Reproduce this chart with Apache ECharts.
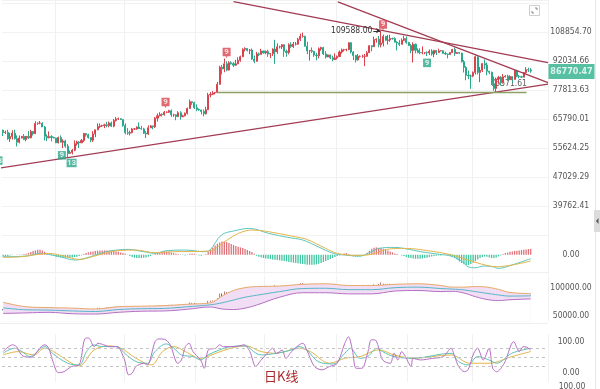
<!DOCTYPE html>
<html><head><meta charset="utf-8">
<script src="https://cdn.jsdelivr.net/npm/echarts@6/dist/echarts.min.js"></script>
<style>html,body{margin:0;padding:0;background:#fff;overflow:hidden}#chart{width:600px;height:389px}</style>
</head><body><div id="chart"></div>
<script>
// ---------- DATA (prices in thousands USD) ----------
const startDate = '2024-08-09';
const priceTickLabels = ['39762.41','47029.29','55624.25','65790.01','77813.63','92034.66','108854.70'];
const open = [
61.7,60.8,60.9,58.7,59.4,60.6,58.7,57.5,58.9,59.5,
58.4,59.5,59.0,61.2,60.4,64.1,64.2,64.2,62.8,59.5,
59.0,59.4,59.1,58.9,57.3,59.1,57.5,57.9,56.2,53.9,
54.2,54.9,57.0,57.6,57.3,58.1,60.5,60.0,59.1,58.2,
60.3,61.8,62.9,63.2,63.3,63.6,63.3,64.3,63.1,65.2,
65.8,65.9,65.6,63.3,60.8,60.6,60.8,62.1,62.1,62.8,
62.2,62.1,60.6,60.3,62.5,63.2,62.9,66.1,67.0,67.6,
67.4,68.4,68.4,69.0,67.4,67.4,66.7,68.2,66.6,67.0,
68.0,69.9,72.7,72.3,70.2,69.5,69.3,68.7,67.8,69.4,
75.6,75.9,76.5,76.7,80.4,88.7,87.9,90.5,87.3,91.1,
90.6,89.8,90.5,92.3,94.3,98.4,98.9,97.8,98.0,93.0,
91.9,95.9,95.6,97.5,96.4,97.2,95.8,96.0,98.6,97.0,
99.9,99.9,101.1,97.4,96.6,101.1,100.0,101.4,101.4,104.3,
106.1,106.1,100.2,97.5,97.8,97.3,95.2,94.9,98.7,99.4,
95.8,94.2,95.3,93.7,92.8,93.6,94.4,96.9,98.1,98.2,
98.3,102.2,96.9,95.0,92.6,94.5,94.5,94.5,94.5,96.5,
100.5,99.9,104.1,104.4,101.1,102.0,106.1,103.7,103.9,104.8,
104.7,102.6,102.1,101.3,103.7,104.7,102.4,100.6,97.7,101.4,
97.9,96.6,96.5,96.5,96.5,96.4,97.4,95.8,97.8,96.6,
97.5,97.6,96.1,95.8,95.5,96.6,98.3,96.1,96.6,96.3,
91.6,88.7,84.7,84.4,84.3,86.1,94.3,86.1,87.2,90.6,
89.9,86.7,86.2,80.7,78.5,82.9,83.7,81.1,84.0,84.3,
82.6,84.1,82.7,86.9,84.2,84.0,83.8,86.1,87.5,87.4];
const high = [
61.8,61.5,61.8,60.7,61.6,61.8,59.8,59.8,59.6,60.3,
59.6,61.4,61.8,61.4,64.9,64.5,65.0,64.5,63.2,60.2,
61.2,59.9,59.4,59.0,59.4,59.8,58.5,58.3,56.9,54.8,
55.3,58.1,58.0,57.9,58.6,60.7,60.6,60.4,59.2,61.3,
61.8,64.1,64.1,63.6,64.0,64.7,64.8,64.8,65.8,66.5,
66.3,66.1,65.6,64.1,62.4,61.5,62.5,62.4,63.0,64.5,
63.2,62.5,61.3,63.4,63.5,63.3,66.5,67.9,68.4,67.9,
68.9,68.7,69.4,69.5,67.8,67.5,68.8,68.8,67.4,68.3,
70.3,73.6,72.9,72.7,71.6,69.9,69.4,69.5,70.6,76.5,
76.9,77.3,76.9,81.5,89.5,89.9,93.3,91.8,91.9,91.8,
91.4,92.6,94.0,94.9,99.0,99.6,99.0,98.6,98.9,94.9,
97.0,96.6,98.7,97.5,97.8,98.2,96.3,99.0,104.0,101.9,
100.5,101.4,101.2,98.3,101.9,102.5,102.7,102.7,105.2,107.8,
108.4,106.5,102.8,98.1,99.5,97.4,96.5,99.5,99.9,99.9,
97.4,95.5,95.4,94.9,96.2,95.0,97.8,98.9,98.7,98.8,
102.5,102.7,97.3,95.3,95.8,95.0,95.4,95.8,97.4,100.7,
100.8,105.9,104.9,106.3,109.588,107.2,106.3,106.9,107.1,105.3,
105.5,103.2,103.8,104.8,106.5,106.0,102.8,101.5,102.5,101.7,
99.0,99.0,100.1,96.9,97.3,98.3,98.5,98.1,97.9,98.8,
97.9,97.7,97.0,96.0,96.9,98.7,99.5,96.9,96.7,96.5,
92.5,89.3,87.0,85.1,86.6,95.0,94.4,88.9,91.0,92.8,
91.2,86.9,86.5,84.1,83.6,84.4,84.3,85.3,84.7,85.0,
84.7,84.1,87.5,87.4,84.8,84.5,86.1,88.8,88.5,88.3];
const low = [
59.6,60.3,58.3,57.6,58.4,58.4,56.1,57.1,58.8,58.2,
57.8,58.6,58.8,59.8,60.3,63.6,63.8,62.8,58.1,57.9,
58.8,57.8,58.8,57.2,57.1,57.4,55.6,55.7,52.6,53.8,
53.6,54.6,56.4,55.6,57.3,57.6,59.4,58.7,57.5,57.6,
59.2,61.6,62.4,62.8,62.4,62.7,62.7,62.8,62.7,64.8,
65.4,65.4,62.9,60.2,60.0,59.8,60.5,61.7,61.8,62.1,
61.8,60.3,58.9,60.0,62.4,62.0,62.4,64.8,66.8,66.7,
67.1,68.0,68.1,66.6,66.6,65.3,66.5,65.5,66.5,66.8,
67.5,69.7,71.4,69.7,68.8,69.0,67.5,66.8,67.5,69.3,
74.6,75.5,75.8,76.5,80.2,85.1,86.2,86.7,87.1,90.1,
88.8,89.4,90.4,91.6,94.1,97.2,97.2,95.7,92.6,90.8,
91.6,94.6,95.4,96.0,95.7,94.2,93.6,94.7,90.5,95.9,
98.9,98.6,94.2,94.3,95.6,99.3,99.2,100.6,101.2,103.3,
105.3,100.0,95.7,92.2,96.4,94.2,92.4,93.4,97.6,95.2,
93.3,94.0,93.0,91.9,92.5,92.8,94.2,96.0,97.2,97.3,
97.9,96.1,92.5,91.2,92.2,93.8,93.7,89.3,94.3,96.4,
97.3,99.9,102.3,99.6,99.5,100.1,103.3,101.2,102.8,104.1,
102.5,97.8,100.3,101.3,103.3,101.6,100.3,96.2,91.2,96.2,
96.2,95.7,95.6,95.7,94.7,95.3,94.9,94.1,95.2,96.5,
97.3,96.1,95.2,93.4,95.5,96.4,94.8,95.8,95.8,91.2,
86.1,82.3,82.8,78.3,83.8,85.1,85.1,81.4,86.3,87.8,
84.7,85.2,80.0,77.5,76.6,80.6,79.9,80.8,83.6,82.0,
82.5,81.1,82.6,83.7,83.2,83.6,83.7,85.6,86.3,85.9];
const close = [
60.8,60.9,58.7,59.4,60.6,58.7,57.5,58.9,59.5,58.4,
59.5,59.0,61.2,60.4,64.1,64.2,64.2,62.8,59.5,59.0,
59.4,59.1,58.9,57.3,59.1,57.5,57.9,56.2,53.9,54.2,
54.9,57.0,57.6,57.3,58.1,60.5,60.0,59.1,58.2,60.3,
61.8,62.9,63.2,63.3,63.6,63.3,64.3,63.1,65.2,65.8,
65.9,65.6,63.3,60.8,60.6,60.8,62.1,62.1,62.8,62.2,
62.1,60.6,60.3,62.5,63.2,62.9,66.1,67.0,67.6,67.4,
68.4,68.4,69.0,67.4,67.4,66.7,68.2,66.6,67.0,68.0,
69.9,72.7,72.3,70.2,69.5,69.3,68.7,67.8,69.4,75.6,
75.9,76.5,76.7,80.4,88.7,87.9,90.5,87.3,91.1,90.6,
89.8,90.5,92.3,94.3,98.4,98.9,97.8,98.0,93.0,91.9,
95.9,95.6,97.5,96.4,97.2,95.8,96.0,98.6,97.0,99.9,
99.9,101.1,97.4,96.6,101.1,100.0,101.4,101.4,104.3,106.1,
106.1,100.2,97.5,97.8,97.3,95.2,94.9,98.7,99.4,95.8,
94.2,95.3,93.7,92.8,93.6,94.4,96.9,98.1,98.2,98.3,
102.2,96.9,95.0,92.6,94.5,94.5,94.5,94.5,96.5,100.5,
99.9,104.1,104.4,101.1,102.0,106.1,103.7,103.9,104.8,104.7,
102.6,102.1,101.3,103.7,104.7,102.4,100.6,97.7,101.4,97.9,
96.6,96.5,96.5,96.5,96.4,97.4,95.8,97.8,96.6,97.5,
97.6,96.1,95.8,95.5,96.6,98.3,96.1,96.6,96.3,91.6,
88.7,84.7,84.4,84.3,86.1,94.3,86.1,87.2,90.6,89.9,
86.7,86.2,80.7,78.5,82.9,83.7,81.1,84.0,84.3,82.6,
84.1,82.7,86.9,84.2,84.0,83.8,86.1,87.5,87.4,86.77047];

// trend lines [dayIndex, price(k)]
const resistanceA = [[100, 129.7], [236.5, 91.1]];
const resistanceB = [[145.3, 129.5], [236.5, 81.2]];
const supportC = [[-1.4, 49.5], [236.5, 80.5]];
const levelD = [[92.7, 76.7], [227.2, 76.7]];
const highMark = {from: 160.7, to: 163.6, price: 109.588, text: '109588.00'};
const lowMark = {idx: 211.3, price: 80.6, text: '76571.61'};
// TD sequential markers [dayIndex, price(k), text, side]
const tdMarks = [
  [97, 96.4, '9', 'up'], [70.5, 72.2, '9', 'up'], [164.9, 113.0, '9', 'up'],
  [25.5, 53.3, '9', 'down'], [29.7, 51.0, '13', 'down'], [184, 91.0, '9', 'down'], [-2.45, 51.7, '13', 'down']
];

// MACD panel
const macdHist = [
-600,-500,-400,-200,-100,0,100,-100,100,200,
300,500,800,1100,1300,1500,1500,1300,900,500,
100,-200,-400,-600,-700,-800,-900,-900,-900,-900,
-800,-700,-600,-400,-200,200,500,700,900,1000,
1100,1200,1300,1300,1300,1300,1200,1200,1100,1000,
900,700,500,300,-100,-400,-700,-900,-1000,-1000,
-1000,-900,-800,-600,-400,-100,300,600,800,1000,
1000,1000,900,700,500,300,200,100,-100,-200,
100,300,400,300,100,-200,-300,-100,200,800,
1500,2200,2800,3300,3700,4000,4000,3800,3500,3200,
2900,2600,2400,2200,2000,1700,1400,1100,800,300,
-300,-600,-800,-1000,-1100,-1200,-1300,-1400,-1500,-1600,
-1700,-1800,-1900,-2000,-2200,-2300,-2400,-2500,-2600,-2700,
-2800,-2900,-3000,-3000,-3000,-3000,-2900,-2700,-2500,-2200,
-1900,-1600,-1300,-1000,-700,-400,-200,100,400,500,
200,-200,-500,-600,-600,-500,-300,0,600,1200,
1800,2100,2200,2100,2000,1800,1600,1300,1000,700,
400,200,0,-200,-400,-700,-900,-1000,-1100,-1200,
-1200,-1200,-1100,-1000,-900,-700,-500,-400,-300,-200,
-200,-100,-100,-200,-400,-600,-900,-1400,-2000,-2500,
-2900,-3100,-3100,-2800,-2400,-1900,-1400,-1000,-700,-500,
-600,-800,-1000,-1000,-800,-500,-200,200,500,700,
900,1000,1100,1200,1300,1400,1500,1600,1700,1800];
const macdDif = [[0,-600],[9.9,-400],[16.5,400],[19.8,100],[24.7,-600],[31.3,-1600],[37.9,-600],[44.5,900],[49.4,1400],[54.4,1600],[61,900],[65.9,400],[70.8,1200],[79,1400],[87.3,900],[89.8,1400],[94.7,5900],[100.5,7200],[107,7900],[115.3,6400],[123.6,5200],[130.1,4400],[136.7,2400],[143.3,400],[148.3,-100],[154.9,-400],[159.8,900],[163.1,1900],[169.7,2200],[176.3,1600],[181.2,900],[189.5,100],[194.4,-400],[199.3,-2100],[201.8,-3600],[205.1,-3900],[208.4,-3400],[212.5,-3600],[215,-4100],[220.8,-3100],[229,-1200]];
const macdDea = [[0,-800],[8.2,-600],[19.8,400],[26.4,-400],[33,-1400],[41.2,-100],[49.4,1200],[57.7,1400],[65.9,600],[74.1,900],[89,1100],[97.2,4400],[102.1,6400],[107.9,7400],[115.3,6900],[125.2,5600],[131.8,4600],[140,1900],[145,400],[153.2,-200],[159.8,100],[166.4,1600],[174.6,1900],[184.5,1200],[194.4,0],[201,-1400],[207.6,-2800],[214.2,-3600],[220.8,-3100],[229,-1900]];

// BOLL panel (k)
const bollIdx = [0,10,20,30,40,50,60,70,80,90,95,100,105,110,120,130,140,150,160,170,180,190,195,200,205,210,215,220,229];
const bollUpper = [74,66,64.5,63.5,62,66,67,68,70.5,73,85,95,100,102,103,106,107,104,104,106,107,104,101,101,102,101,97,91.5,89.5];
const bollMid = [64,60.5,60,58.5,57.5,61,62.5,63,66,69.5,73,78,83,86.5,93,98.5,99,96.5,96.5,100,101,98.5,97.5,96,93,90,87,85,85.5];
const bollLower = [54,55,56,53.5,53,56,58,58.5,61.5,65.5,62,61,63.5,69,83,91,91,89,89,94,95,93,93.5,90.5,84,79,77,78.5,80];
const bollTickValues = [50000, 100000];

// KDJ panel
const kdjJ = [[0,68],[4.1,90],[5.8,84],[7.4,63],[9.1,52],[12.4,50],[14.8,68],[16.5,84],[18.1,90],[19.8,79],[21.4,41],[23.9,0],[26.4,3],[29.7,20],[33,25],[35.4,109],[37.1,112],[39.5,84],[41.2,95],[43.7,90],[46.1,84],[49.4,84],[52.7,41],[54.4,-7],[56,-2],[57.7,20],[61,30],[62.6,25],[65.9,100],[67.5,109],[70,108],[72.5,90],[75.8,30],[77.4,41],[79.1,84],[80.7,95],[82.4,68],[85.7,41],[87.3,14],[89,73],[92.3,79],[93.9,90],[95.6,84],[98.8,84],[102.1,86],[104.6,90],[107.1,68],[109.6,20],[112,41],[115.3,68],[117,79],[118.6,62],[121.1,73],[122.7,46],[125.2,68],[128.5,90],[130.1,95],[131.8,73],[135.1,20],[138.4,9],[141.7,20],[145,30],[148.3,95],[149.9,116],[151.6,73],[153.2,14],[155.7,14],[158.2,63],[159.8,106],[161.4,106],[163.1,79],[164.7,41],[168,30],[169.7,63],[171.3,41],[173,68],[174.6,52],[177.1,20],[177.9,46],[181.2,41],[186.2,46],[191.1,52],[194.4,79],[196,52],[197.7,20],[200.2,3],[201.8,9],[204.3,63],[205.9,79],[208.4,41],[210.9,79],[212.5,14],[214.2,3],[217.5,30],[221.6,100],[224.1,68],[225.7,84],[227.3,82],[229,73]];
const kdjK = [[0,62.7],[4.9,78.9],[8.2,68.1],[11.5,51.9],[16.5,78.9],[18.1,84.3],[21.4,62.7],[28,30.4],[33,24.9],[36.2,68.1],[39.5,89.7],[42.8,84.3],[49.4,84.3],[52.7,62.7],[57.7,35.7],[62.6,30.4],[65.9,68.1],[70.8,92.9],[74.1,78.9],[77.4,57.3],[82.4,51.9],[85.7,41.1],[89,57.3],[93.9,73.5],[98.8,84.3],[105.4,86.4],[108.7,68.1],[112,57.3],[118.6,62.7],[125.2,73.5],[128.5,84.3],[131.8,73.5],[136.7,35.7],[143.3,28.2],[148.3,62.7],[150.7,78.9],[154.9,46.5],[158.2,51.9],[162.3,78.9],[164.7,68.1],[169.7,51.9],[177.9,46.5],[194.4,62.7],[197.7,35.7],[201.8,24.9],[205.9,51.9],[210.9,41.1],[214.2,30.4],[220.8,62.7],[229,78.9]];
const kdjD = [[0,57.3],[6.6,68.1],[13.2,57.3],[18.1,78.9],[23.1,62.7],[29.7,30.4],[33,21.7],[39.5,73.5],[46.1,86.4],[51.1,78.9],[57.7,46.5],[64.3,24.9],[69.2,68.1],[74.1,84.3],[79.1,68.1],[85.7,46.5],[92.3,62.7],[98.8,78.9],[105.4,86.4],[112,68.1],[118.6,62.7],[128.5,78.9],[133.4,68.1],[141.7,30.4],[148.3,46.5],[154.9,51.9],[163.1,73.5],[169.7,57.3],[177.9,46.5],[194.4,57.3],[202.6,30.4],[210.9,30.4],[220.8,51.9],[229,68.1]];
const kdjLevels = [20, 50, 80];
const kdjTickValues = [0, 100];

// ---------- CHART ----------
const FONT = "'Liberation Sans Narrow','DejaVu Sans Condensed','Roboto Condensed',Roboto,sans-serif";
const UP = '#d9434e', DOWN = '#2aa889';
const K = 1000;
const N_SLOTS = 237;
const P0 = parseFloat(priceTickLabels[0]);
const LNR = Math.log(parseFloat(priceTickLabels[priceTickLabels.length - 1]) / P0) / (priceTickLabels.length - 1);
const T = p => Math.log(p * K / P0) / LNR;
const lastClose = close[close.length - 1];

const dates = [];
const sd = new Date(startDate + 'T00:00:00Z');
for (let i = 0; i < close.length; i++) {
  const d = new Date(sd.getTime() + i * 86400000);
  dates.push(d.toISOString().slice(0, 10));
}
const cats = dates.concat(new Array(N_SLOTS - dates.length).fill(''));
const monthStart = (idx, val) => !!val && val.slice(8) === '01';

const candleMain = open.map((o, i) => [T(o), T(close[i]), T(low[i]), T(high[i])]);
const candleSub = open.map((o, i) => [o * K, close[i] * K, low[i] * K, high[i] * K]);
const toT = arr => arr.map(p => [p[0], T(p[1])]);
const bollSeries = arr => arr.map((v, i) => [bollIdx[i], v * K]);

const catAxis = g => ({type: 'category', gridIndex: g, data: cats, boundaryGap: true,
  axisLine: {show: false}, axisTick: {show: false}, axisLabel: {show: false},
  splitLine: {show: true, interval: monthStart, lineStyle: {color: '#f0f0f0', width: 1}}});
const valXAxis = g => ({type: 'value', gridIndex: g, min: -0.5, max: N_SLOTS - 0.5, show: false});
const labelStyle = {color: '#555', fontSize: 8.5, fontFamily: FONT, align: 'center', margin: 23};

const lineStyleTrend = {color: '#a23b52', width: 1.2};

const option = {
  animation: false,
  backgroundColor: '#fff',
  grid: [
    {left: 2, top: 0, width: 546, height: 235},
    {left: 2, top: 221.4, width: 546, height: 53.3},
    {left: 2, top: 276.5, width: 546, height: 44.8},
    {left: 2, top: 334, width: 546, height: 47.9}
  ],
  xAxis: [catAxis(0), valXAxis(0), catAxis(1), valXAxis(1), catAxis(2), valXAxis(2), catAxis(3), valXAxis(3)],
  yAxis: [
    {type: 'value', gridIndex: 0, position: 'right', min: -1, max: 7.1, interval: 1,
      axisLine: {show: false}, axisTick: {show: false},
      splitLine: {lineStyle: {color: '#f2f2f2'}},
      axisLabel: Object.assign({}, labelStyle, {showMaxLabel: false, formatter: v => {
        const k = Math.round(v); return (Math.abs(v - k) < 1e-6 && priceTickLabels[k]) ? priceTickLabels[k] : ''; }})},
    {type: 'value', gridIndex: 1, position: 'right', min: -6000, max: 10000, interval: 2000,
      axisLine: {show: false}, axisTick: {show: false}, splitLine: {show: false},
      axisLabel: Object.assign({}, labelStyle, {formatter: v => v === 0 ? '0.00' : ''})},
    {type: 'value', gridIndex: 2, position: 'right', min: 40000, max: 120000, interval: 10000,
      axisLine: {show: false}, axisTick: {show: false}, splitLine: {show: false},
      axisLabel: Object.assign({}, labelStyle, {formatter: v => bollTickValues.indexOf(v) >= 0 ? v.toFixed(2) : ''})},
    {type: 'value', gridIndex: 3, position: 'right', min: -30, max: 125, interval: 10,
      axisLine: {show: false}, axisTick: {show: false}, splitLine: {show: false},
      axisLabel: Object.assign({}, labelStyle, {formatter: v => kdjTickValues.indexOf(v) >= 0 ? v.toFixed(2) : ''})}
  ],
  series: [
    {type: 'scatter', xAxisIndex: 1, yAxisIndex: 0, silent: true, z: 1, symbol: 'circle', symbolSize: 1,
      itemStyle: {color: 'transparent'},
      label: {show: true, position: 'right', distance: 0, color: '#333', fontSize: 8.5, fontFamily: FONT, formatter: lowMark.text},
      data: [[lowMark.idx, T(lowMark.price)]]},
    {type: 'candlestick', xAxisIndex: 0, yAxisIndex: 0, data: candleMain, barWidth: '68%', z: 2,
      itemStyle: {color: UP, color0: DOWN, borderColor: UP, borderColor0: DOWN, borderWidth: 1}},
    {type: 'line', xAxisIndex: 1, yAxisIndex: 0, data: toT(resistanceA), symbol: 'none', lineStyle: lineStyleTrend, silent: true, z: 3},
    {type: 'line', xAxisIndex: 1, yAxisIndex: 0, data: toT(resistanceB), symbol: 'none', lineStyle: lineStyleTrend, silent: true, z: 3},
    {type: 'line', xAxisIndex: 1, yAxisIndex: 0, data: toT(supportC), symbol: 'none', lineStyle: lineStyleTrend, silent: true, z: 3},
    {type: 'line', xAxisIndex: 1, yAxisIndex: 0, data: toT(levelD), symbol: 'none', lineStyle: {color: '#8fa066', width: 1.5}, silent: true, z: 3,
      markLine: {silent: true, symbol: ['none', 'arrow'], symbolSize: 4,
        lineStyle: {color: '#333', width: 1, type: 'solid'},
        label: {show: true, position: 'start', distance: 1, formatter: highMark.text, color: '#333', fontSize: 8.5, fontFamily: FONT},
        data: [[{coord: [highMark.from, T(highMark.price)]}, {coord: [highMark.to, T(highMark.price)]}]]}},
    {type: 'scatter', xAxisIndex: 1, yAxisIndex: 0, clip: false, silent: true, z: 4,
      data: tdMarks.map(m => ({
        value: [m[0], T(m[1])],
        symbol: m[3] === 'up' ? 'path://M0,0H10V9H6L5,11L4,9H0Z' : 'rect',
        symbolSize: m[3] === 'up' ? [8, 10.5] : [m[2].length > 1 ? 10 : 8, 8.5],
        symbolKeepAspect: false,
        itemStyle: {color: m[3] === 'up' ? UP : DOWN},
        label: {show: true, position: 'inside', formatter: m[2], color: '#fff', fontSize: 8, fontWeight: 'bold',
          fontFamily: 'Roboto, sans-serif', offset: [0, m[3] === 'up' ? -1 : 0]}
      }))},
    {type: 'scatter', xAxisIndex: 1, yAxisIndex: 0, clip: false, silent: true, z: 6,
      data: [[N_SLOTS - 0.5, T(lastClose)]],
      symbol: 'rect', symbolSize: [46, 15], symbolOffset: [23.5, 0.5],
      itemStyle: {color: '#2db08c'},
      label: {show: true, position: 'inside', formatter: (lastClose * K).toFixed(2), color: '#fff',
        fontSize: 9, fontWeight: 'bold', fontFamily: FONT}},
    // MACD
    {type: 'bar', xAxisIndex: 2, yAxisIndex: 1, data: macdHist, barWidth: '55%', silent: true,
      itemStyle: {color: p => p.value >= 0 ? '#de6f76' : '#3ec49e'}},
    {type: 'line', xAxisIndex: 3, yAxisIndex: 1, data: macdDif, symbol: 'none', smooth: 0.35, lineStyle: {color: '#5cc6c0', width: 1}},
    {type: 'line', xAxisIndex: 3, yAxisIndex: 1, data: macdDea, symbol: 'none', smooth: 0.35, lineStyle: {color: '#e4b54a', width: 1}},
    // BOLL
    {type: 'line', xAxisIndex: 5, yAxisIndex: 2, data: bollSeries(bollUpper), symbol: 'none', smooth: 0.4,
      lineStyle: {color: '#e8a866', width: 1}, areaStyle: {color: '#f2def4', opacity: 1, origin: 'start'}},
    {type: 'line', xAxisIndex: 5, yAxisIndex: 2, data: bollSeries(bollLower), symbol: 'none', smooth: 0.4,
      lineStyle: {color: '#b470c4', width: 1}, areaStyle: {color: '#ffffff', opacity: 1, origin: 'start'}},
    {type: 'line', xAxisIndex: 5, yAxisIndex: 2, data: bollSeries(bollMid), symbol: 'none', smooth: 0.4,
      lineStyle: {color: '#57b6c6', width: 1}},
    {type: 'candlestick', xAxisIndex: 4, yAxisIndex: 2, data: candleSub, barWidth: '45%',
      itemStyle: {color: '#b85a66', color0: '#3d4966', borderColor: '#b85a66', borderColor0: '#3d4966', borderWidth: 0.8}},
    // KDJ
    {type: 'line', xAxisIndex: 7, yAxisIndex: 3, data: kdjD, symbol: 'none', smooth: 0.35, lineStyle: {color: '#e2b648', width: 1},
      markLine: {silent: true, symbol: 'none', label: {show: false},
        lineStyle: {color: '#c4c4c4', type: [3, 3], width: 1},
        data: kdjLevels.map(v => ({yAxis: v}))}},
    {type: 'line', xAxisIndex: 7, yAxisIndex: 3, data: kdjK, symbol: 'none', smooth: 0.35, lineStyle: {color: '#5cc2b8', width: 1}},
    {type: 'line', xAxisIndex: 7, yAxisIndex: 3, data: kdjJ, symbol: 'none', smooth: 0.3, lineStyle: {color: '#b66ec6', width: 1}}
  ],
  graphic: [
    {type: 'line', shape: {x1: 0, y1: 272.5, x2: 548, y2: 272.5}, style: {stroke: '#efefef', lineWidth: 1}, silent: true},
    {type: 'line', shape: {x1: 0, y1: 323.5, x2: 548, y2: 323.5}, style: {stroke: '#efefef', lineWidth: 1}, silent: true},
    {type: 'line', shape: {x1: 595.5, y1: 0, x2: 595.5, y2: 389}, style: {stroke: '#e8e8e8', lineWidth: 1}, silent: true},
    {type: 'rect', shape: {x: 594, y: 210, width: 6, height: 22}, style: {fill: '#dcdcdc'}, silent: true},
    {type: 'polygon', shape: {points: [[598.5, 218], [598.5, 224], [596, 221]]}, style: {fill: '#555'}, silent: true},
    {type: 'rect', shape: {x: 529.5, y: 5.5, width: 10, height: 10}, style: {fill: 'none', stroke: '#cfcfcf', lineWidth: 1}, silent: true},
    {type: 'polyline', shape: {points: [[535, 8], [537, 8], [537, 10]]}, style: {stroke: '#888', lineWidth: 1, fill: 'none'}, silent: true},
    {type: 'polyline', shape: {points: [[532, 11], [532, 13], [534, 13]]}, style: {stroke: '#888', lineWidth: 1, fill: 'none'}, silent: true},
    {type: 'text', left: 264, top: 370, style: {text: '日K线', fill: '#a8292c', font: "13px 'Noto Sans CJK SC', sans-serif"}, silent: true},
    {type: 'text', x: 572, y: 387, style: {text: '100.00', fill: '#555', font: "8.5px " + FONT, align: 'center', verticalAlign: 'middle'}, silent: true}
  ]
};
const chart = echarts.init(document.getElementById('chart'), null, {renderer: 'canvas'});
chart.setOption(option);
</script></body></html>
